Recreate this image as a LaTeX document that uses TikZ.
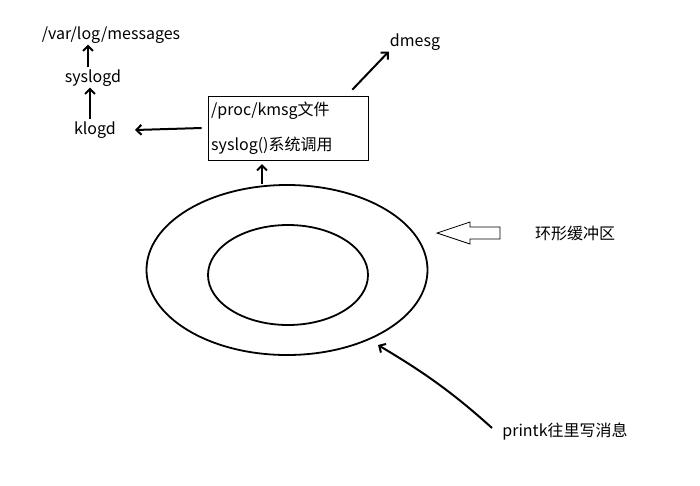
\documentclass[tikz,border=0pt]{standalone}
\usepackage{fontspec}
\setmainfont{Noto Sans CJK SC}
\usetikzlibrary{arrows.meta,shapes.geometric}
\begin{document}
\begin{tikzpicture}[x=1pt,y=-1pt,
  lbl/.style={font=\fontsize{16}{19}\selectfont, inner sep=1pt},
  arr/.style={line width=2pt,-{Straight Barb[length=5pt,width=10pt]}},
  ring/.style={line width=1.8pt}]
\useasboundingbox (0,0) rectangle (700,485);
\node[lbl] (msg) at (111,35) {/var/log/messages};
\node[lbl] (sys) at (93,78) {syslogd};
\node[lbl] (klog) at (95,130) {klogd};
\node[lbl] (dmesg) at (415,42) {dmesg};
\node[draw, line width=0.6pt, minimum width=160pt, minimum height=64pt] (box) at (288,128) {};
\node[lbl, anchor=west] (kmsg) at (210,111) {/proc/kmsg文件};
\node[lbl, anchor=west] (sysc) at (210,146) {syslog()系统调用};
\node[ellipse, ring, draw, minimum width=281pt, minimum height=170pt] (outer) at (287,270) {};
\node[ellipse, ring, draw, minimum width=160pt, minimum height=100pt] (inner) at (288,275) {};
\node[lbl] (ring) at (575,233) {环形缓冲区};
\node[lbl] (pk) at (565,432) {printk往里写消息};
\coordinate (pkstart) at (492,428);
\coordinate (pkend) at (378,345);
\draw[arr] (sys.north -| 88,0) ++(0,-1) -- (msg.south -| 88,0);
\draw[arr] (klog.north -| 90,0) ++(0,-1) -- (sys.south -| 90,0);
\draw[arr] (box.west) ++(-6,0) coordinate (bw) -- (135,130);
\draw[arr] (box.north east) ++(-16,-6) coordinate (bn) -- (dmesg.south west);
\draw[arr] (outer.north -| 262,0) -- (262,164);
\draw[arr] (pkstart) .. controls (450,390) and (420,370) .. (pkend);
\draw[line width=0.8pt] (437,233) -- (470,222) -- (470,227) -- (500,227) -- (500,239) -- (470,239) -- (470,244) -- cycle;
\end{tikzpicture}
\end{document}
